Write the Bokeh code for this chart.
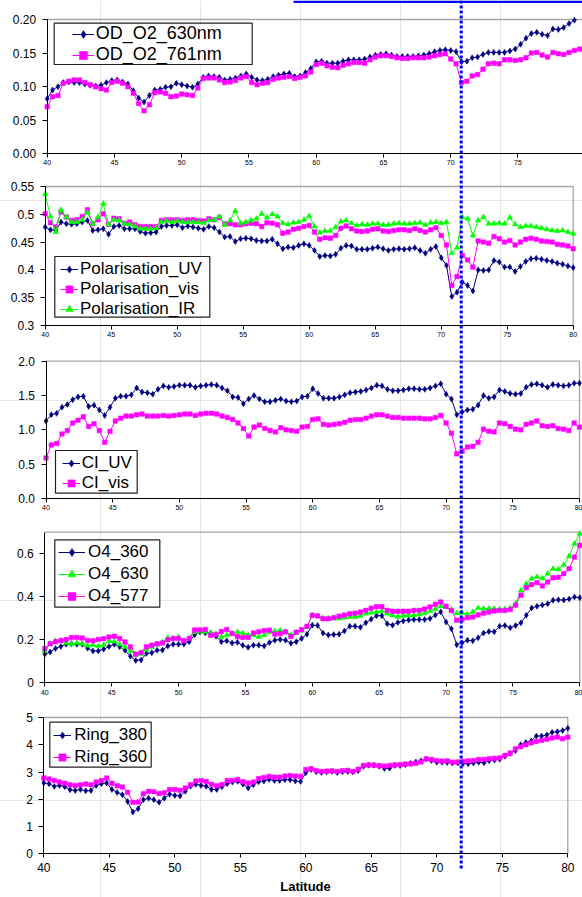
import numpy as np
from bokeh.plotting import figure
from bokeh.models import Range1d, LinearAxis, FixedTicker, Legend, LegendItem
from bokeh.embed import file_html
from bokeh.resources import INLINE

# ---------------- data ----------------
LAT = [40.0, 40.4, 40.8, 41.2, 41.6, 42.0, 42.4, 42.8, 43.2, 43.6,
       44.0, 44.4, 44.8, 45.2, 45.6, 46.0, 46.4, 46.8, 47.2, 47.6,
       48.0, 48.4, 48.8, 49.2, 49.6, 50.0, 50.4, 50.8, 51.2, 51.6,
       52.0, 52.4, 52.8, 53.2, 53.6, 54.0, 54.4, 54.8, 55.2, 55.6,
       56.0, 56.4, 56.8, 57.2, 57.6, 58.0, 58.4, 58.8, 59.2, 59.6,
       60.0, 60.4, 60.8, 61.2, 61.6, 62.0, 62.4, 62.8, 63.2, 63.6,
       64.0, 64.4, 64.8, 65.2, 65.6, 66.0, 66.4, 66.8, 67.2, 67.6,
       68.0, 68.4, 68.8, 69.2, 69.6, 70.0, 70.4, 70.8, 71.2, 71.6,
       72.0, 72.4, 72.8, 73.2, 73.6, 74.0, 74.4, 74.8, 75.2, 75.6,
       76.0, 76.4, 76.8, 77.2, 77.6, 78.0, 78.4, 78.8, 79.2, 79.6,
       80.0]

OD_O2_630 = [0.082, 0.095, 0.100, 0.106, 0.107, 0.106, 0.106, 0.104, 0.102, 0.101,
             0.102, 0.106, 0.109, 0.110, 0.107, 0.104, 0.094, 0.083, 0.077, 0.087,
             0.095, 0.096, 0.099, 0.100, 0.105, 0.103, 0.101, 0.099, 0.104, 0.114,
             0.116, 0.115, 0.114, 0.110, 0.111, 0.113, 0.116, 0.119, 0.114, 0.110,
             0.109, 0.111, 0.115, 0.117, 0.119, 0.120, 0.115, 0.116, 0.121, 0.127,
             0.137, 0.138, 0.135, 0.135, 0.135, 0.138, 0.140, 0.140, 0.140, 0.141,
             0.144, 0.147, 0.148, 0.149, 0.147, 0.145, 0.145, 0.145, 0.145, 0.146,
             0.147, 0.149, 0.152, 0.154, 0.155, 0.154, 0.152, 0.137, 0.138, 0.143,
             0.144, 0.148, 0.151, 0.151, 0.151, 0.151, 0.153, 0.156, 0.163, 0.172,
             0.179, 0.181, 0.178, 0.176, 0.186, 0.185, 0.188, 0.194, 0.199, 0.205,
             0.210]
OD_O2_761 = [0.070, 0.085, 0.087, 0.105, 0.108, 0.110, 0.110, 0.106, 0.103, 0.100,
             0.097, 0.095, 0.106, 0.108, 0.105, 0.100, 0.090, 0.075, 0.064, 0.073,
             0.091, 0.092, 0.090, 0.085, 0.086, 0.089, 0.088, 0.087, 0.098, 0.112,
             0.113, 0.113, 0.110, 0.106, 0.107, 0.109, 0.113, 0.115, 0.106, 0.103,
             0.105, 0.106, 0.111, 0.113, 0.114, 0.115, 0.112, 0.114, 0.116, 0.122,
             0.133, 0.135, 0.131, 0.129, 0.128, 0.132, 0.134, 0.136, 0.136, 0.135,
             0.140, 0.144, 0.146, 0.146, 0.145, 0.143, 0.142, 0.142, 0.143, 0.143,
             0.143, 0.144, 0.146, 0.148, 0.149, 0.141, 0.134, 0.106, 0.108, 0.116,
             0.118, 0.126, 0.134, 0.135, 0.134, 0.140, 0.140, 0.139, 0.140, 0.143,
             0.150, 0.151, 0.147, 0.144, 0.151, 0.149, 0.148, 0.151, 0.154, 0.156,
             0.157]

POL_UV = [0.477, 0.472, 0.471, 0.486, 0.483, 0.482, 0.483, 0.486, 0.489, 0.471,
          0.472, 0.474, 0.464, 0.478, 0.480, 0.474, 0.474, 0.474, 0.469, 0.466,
          0.467, 0.468, 0.478, 0.480, 0.480, 0.481, 0.476, 0.479, 0.477, 0.475,
          0.473, 0.478, 0.476, 0.468, 0.459, 0.460, 0.451, 0.456, 0.457, 0.456,
          0.453, 0.452, 0.452, 0.455, 0.447, 0.438, 0.441, 0.440, 0.444, 0.447,
          0.444, 0.435, 0.424, 0.426, 0.425, 0.428, 0.439, 0.444, 0.443, 0.437,
          0.437, 0.437, 0.439, 0.441, 0.438, 0.435, 0.437, 0.438, 0.437, 0.438,
          0.440, 0.435, 0.430, 0.437, 0.442, 0.422, 0.408, 0.352, 0.360, 0.378,
          0.372, 0.362, 0.400, 0.399, 0.400, 0.417, 0.414, 0.405, 0.405, 0.397,
          0.406, 0.415, 0.420, 0.421, 0.419, 0.417, 0.415, 0.412, 0.410, 0.407,
          0.404]
POL_VIS = [0.501, 0.485, 0.477, 0.504, 0.495, 0.489, 0.490, 0.496, 0.508, 0.483,
           0.490, 0.501, 0.482, 0.493, 0.492, 0.484, 0.486, 0.481, 0.478, 0.478,
           0.478, 0.478, 0.489, 0.490, 0.490, 0.490, 0.489, 0.490, 0.490, 0.489,
           0.488, 0.492, 0.490, 0.494, 0.483, 0.483, 0.481, 0.481, 0.483, 0.484,
           0.483, 0.478, 0.485, 0.484, 0.481, 0.466, 0.468, 0.473, 0.475, 0.478,
           0.480, 0.468, 0.455, 0.458, 0.457, 0.462, 0.475, 0.479, 0.474, 0.470,
           0.469, 0.470, 0.473, 0.474, 0.470, 0.469, 0.471, 0.472, 0.472, 0.471,
           0.474, 0.471, 0.468, 0.472, 0.476, 0.462, 0.445, 0.372, 0.388, 0.426,
           0.418, 0.405, 0.452, 0.450, 0.448, 0.460, 0.456, 0.450, 0.453, 0.445,
           0.450, 0.455, 0.457, 0.455, 0.452, 0.451, 0.450, 0.446, 0.445, 0.443,
           0.438]
POL_IR = [0.536, 0.496, 0.468, 0.508, 0.495, 0.486, 0.486, 0.490, 0.503, 0.483,
          0.495, 0.519, 0.482, 0.490, 0.489, 0.483, 0.482, 0.478, 0.474, 0.474,
          0.474, 0.475, 0.486, 0.488, 0.486, 0.488, 0.486, 0.486, 0.486, 0.486,
          0.484, 0.489, 0.490, 0.496, 0.481, 0.489, 0.506, 0.484, 0.486, 0.489,
          0.492, 0.501, 0.494, 0.500, 0.496, 0.484, 0.482, 0.485, 0.486, 0.490,
          0.497, 0.478, 0.467, 0.470, 0.470, 0.477, 0.487, 0.489, 0.484, 0.480,
          0.482, 0.481, 0.483, 0.483, 0.481, 0.481, 0.483, 0.484, 0.483, 0.483,
          0.484, 0.485, 0.481, 0.485, 0.486, 0.484, 0.486, 0.430, 0.440, 0.495,
          0.492, 0.462, 0.489, 0.495, 0.483, 0.483, 0.484, 0.483, 0.494, 0.482,
          0.477, 0.479, 0.479, 0.477, 0.475, 0.473, 0.471, 0.470, 0.471, 0.468,
          0.465]

CI_UV = [1.13, 1.22, 1.24, 1.33, 1.37, 1.44, 1.48, 1.49, 1.34, 1.36,
         1.29, 1.21, 1.33, 1.46, 1.49, 1.49, 1.51, 1.61, 1.55, 1.54,
         1.52, 1.59, 1.64, 1.62, 1.63, 1.65, 1.65, 1.65, 1.62, 1.64,
         1.65, 1.66, 1.65, 1.61, 1.57, 1.48, 1.47, 1.38, 1.45, 1.50,
         1.45, 1.41, 1.41, 1.43, 1.45, 1.42, 1.41, 1.42, 1.48, 1.49,
         1.60, 1.53, 1.46, 1.46, 1.46, 1.48, 1.51, 1.54, 1.55, 1.56,
         1.58, 1.61, 1.65, 1.64, 1.59, 1.57, 1.57, 1.58, 1.60, 1.60,
         1.59, 1.59, 1.61, 1.64, 1.67, 1.52, 1.45, 1.22, 1.26, 1.29,
         1.30, 1.36, 1.50, 1.46, 1.48, 1.58, 1.56, 1.53, 1.52, 1.53,
         1.62, 1.66, 1.67, 1.65, 1.62, 1.66, 1.65, 1.64, 1.65, 1.68,
         1.68]
CI_VIS = [0.59, 0.78, 0.80, 0.94, 0.99, 1.10, 1.14, 1.19, 1.05, 1.09,
          0.99, 0.82, 0.98, 1.13, 1.17, 1.20, 1.20, 1.22, 1.23, 1.20,
          1.20, 1.20, 1.21, 1.20, 1.21, 1.22, 1.23, 1.23, 1.21, 1.23,
          1.24, 1.24, 1.23, 1.20, 1.18, 1.15, 1.10, 1.02, 0.91, 1.04,
          1.07, 1.02, 0.99, 0.97, 1.03, 1.00, 0.99, 0.98, 1.04, 1.05,
          1.15, 1.16, 1.08, 1.07, 1.08, 1.09, 1.11, 1.14, 1.15, 1.15,
          1.17, 1.20, 1.22, 1.22, 1.20, 1.18, 1.18, 1.17, 1.17, 1.17,
          1.17, 1.16, 1.16, 1.18, 1.21, 1.10, 0.95, 0.65, 0.69, 0.75,
          0.76, 0.82, 1.01, 0.98, 0.97, 1.10, 1.09, 1.05, 1.01, 1.00,
          1.08, 1.10, 1.13, 1.06, 1.05, 1.06, 1.02, 1.01, 0.99, 1.10,
          1.04]

O4_360 = [0.132, 0.142, 0.158, 0.168, 0.178, 0.181, 0.178, 0.178, 0.160, 0.147,
          0.147, 0.155, 0.168, 0.178, 0.166, 0.150, 0.122, 0.103, 0.105, 0.135,
          0.138, 0.150, 0.151, 0.170, 0.178, 0.178, 0.179, 0.190, 0.222, 0.235,
          0.231, 0.231, 0.215, 0.190, 0.194, 0.184, 0.187, 0.173, 0.164, 0.174,
          0.174, 0.170, 0.186, 0.197, 0.200, 0.197, 0.183, 0.190, 0.205, 0.225,
          0.267, 0.265, 0.230, 0.221, 0.223, 0.225, 0.240, 0.262, 0.262, 0.257,
          0.278, 0.295, 0.311, 0.311, 0.274, 0.267, 0.280, 0.287, 0.291, 0.293,
          0.293, 0.293, 0.298, 0.314, 0.329, 0.282, 0.250, 0.176, 0.185, 0.197,
          0.194, 0.208, 0.230, 0.237, 0.236, 0.262, 0.265, 0.255, 0.265, 0.278,
          0.313, 0.347, 0.355, 0.361, 0.367, 0.383, 0.385, 0.384, 0.389, 0.398,
          0.395]
O4_630 = [0.147, 0.181, 0.194, 0.192, 0.184, 0.178, 0.184, 0.180, 0.172, 0.174,
          0.169, 0.175, 0.193, 0.191, 0.178, 0.166, 0.147, 0.130, 0.133, 0.153,
          0.166, 0.176, 0.188, 0.208, 0.205, 0.212, 0.196, 0.205, 0.234, 0.237,
          0.236, 0.230, 0.225, 0.211, 0.220, 0.228, 0.235, 0.230, 0.222, 0.220,
          0.212, 0.220, 0.234, 0.239, 0.243, 0.236, 0.222, 0.232, 0.242, 0.257,
          0.313, 0.311, 0.300, 0.298, 0.298, 0.298, 0.303, 0.305, 0.305, 0.311,
          0.321, 0.325, 0.329, 0.332, 0.321, 0.313, 0.306, 0.311, 0.313, 0.313,
          0.318, 0.323, 0.332, 0.342, 0.355, 0.352, 0.340, 0.322, 0.325, 0.318,
          0.329, 0.347, 0.344, 0.344, 0.344, 0.340, 0.343, 0.346, 0.368, 0.429,
          0.460, 0.484, 0.492, 0.485, 0.507, 0.530, 0.527, 0.548, 0.588, 0.647,
          0.693]
O4_577 = [0.158, 0.180, 0.190, 0.196, 0.200, 0.209, 0.209, 0.207, 0.196, 0.194,
          0.200, 0.204, 0.212, 0.215, 0.205, 0.189, 0.166, 0.132, 0.140, 0.166,
          0.174, 0.180, 0.184, 0.199, 0.205, 0.205, 0.194, 0.205, 0.245, 0.245,
          0.247, 0.219, 0.224, 0.237, 0.247, 0.228, 0.214, 0.210, 0.210, 0.231,
          0.236, 0.242, 0.244, 0.225, 0.228, 0.236, 0.214, 0.234, 0.246, 0.262,
          0.313, 0.310, 0.297, 0.297, 0.302, 0.309, 0.314, 0.320, 0.323, 0.328,
          0.336, 0.346, 0.353, 0.353, 0.336, 0.332, 0.332, 0.332, 0.332, 0.336,
          0.336, 0.342, 0.352, 0.364, 0.375, 0.355, 0.335, 0.290, 0.294, 0.302,
          0.305, 0.315, 0.323, 0.328, 0.333, 0.336, 0.335, 0.340, 0.360, 0.406,
          0.442, 0.456, 0.465, 0.450, 0.468, 0.488, 0.490, 0.507, 0.530, 0.584,
          0.639]

RING_380 = [2.60, 2.57, 2.47, 2.51, 2.46, 2.35, 2.32, 2.36, 2.31, 2.32,
            2.51, 2.57, 2.60, 2.36, 2.25, 2.17, 1.92, 1.53, 1.65, 1.98,
            2.04, 1.98, 1.89, 2.04, 2.18, 2.14, 2.12, 2.29, 2.48, 2.55,
            2.51, 2.48, 2.36, 2.36, 2.46, 2.57, 2.63, 2.66, 2.55, 2.41,
            2.53, 2.64, 2.67, 2.73, 2.69, 2.69, 2.72, 2.72, 2.67, 2.65,
            2.97, 3.09, 3.01, 2.98, 3.01, 3.02, 2.98, 3.01, 3.02, 3.00,
            3.05, 3.21, 3.25, 3.25, 3.21, 3.13, 3.14, 3.24, 3.24, 3.27,
            3.32, 3.37, 3.41, 3.48, 3.42, 3.36, 3.36, 3.35, 3.33, 3.33,
            3.31, 3.30, 3.33, 3.36, 3.34, 3.41, 3.44, 3.47, 3.58, 3.68,
            3.79, 4.00, 4.08, 4.14, 4.32, 4.32, 4.36, 4.46, 4.48, 4.52,
            4.61]
RING_360 = [2.78, 2.74, 2.69, 2.63, 2.59, 2.53, 2.51, 2.53, 2.56, 2.53,
            2.63, 2.69, 2.78, 2.59, 2.50, 2.45, 2.26, 1.89, 1.90, 2.20,
            2.29, 2.28, 2.21, 2.24, 2.36, 2.36, 2.33, 2.41, 2.53, 2.67,
            2.69, 2.65, 2.55, 2.50, 2.54, 2.69, 2.69, 2.73, 2.64, 2.60,
            2.63, 2.76, 2.80, 2.84, 2.81, 2.81, 2.85, 2.87, 2.85, 2.84,
            3.09, 3.12, 3.05, 3.02, 3.03, 3.04, 3.02, 3.05, 3.06, 3.02,
            3.10, 3.24, 3.26, 3.25, 3.23, 3.22, 3.24, 3.26, 3.27, 3.29,
            3.30, 3.32, 3.37, 3.48, 3.46, 3.42, 3.40, 3.41, 3.36, 3.37,
            3.39, 3.41, 3.42, 3.46, 3.46, 3.49, 3.50, 3.52, 3.61, 3.69,
            3.85, 3.93, 4.00, 4.07, 4.12, 4.16, 4.20, 4.25, 4.28, 4.22,
            4.28]

X_TICKS = [40, 45, 50, 55, 60, 65, 70, 75, 80]
X_TICK_LABELS = ["40", "45", "50", "55", "60", "65", "70", "75", "80"]
Y1_TICKS = [0.0, 0.05, 0.1, 0.15, 0.2]
Y1_LABELS = ["0.00", "0.05", "0.10", "0.15", "0.20"]
Y2_TICKS = [0.3, 0.35, 0.4, 0.45, 0.5, 0.55]
Y2_LABELS = ["0.3", "0.35", "0.4", "0.45", "0.5", "0.55"]
Y3_TICKS = [0.0, 0.5, 1.0, 1.5, 2.0]
Y3_LABELS = ["0.0", "0.5", "1.0", "1.5", "2.0"]
Y4_TICKS = [0.0, 0.2, 0.4, 0.6]
Y4_LABELS = ["0", "0.2", "0.4", "0.6"]
Y5_TICKS = [0, 1, 2, 3, 4, 5]
Y5_LABELS = ["0", "1", "2", "3", "4", "5"]

NAVY = "#000080"
MAGENTA = "#FF00FF"
GREEN = "#00FF00"
FONT = "Liberation Sans"

# ---------------- page figure ----------------
W, H = 582, 897
p = figure(width=W, height=H, output_backend="svg", toolbar_location=None,
           x_axis_location=None, y_axis_location=None,
           x_range=Range1d(0, W), y_range=Range1d(H, 0),
           min_border=0, outline_line_color=None,
           background_fill_color="white", border_fill_color="white")

# panel layout in page pixels: left(x=40), right(x=80), top(ymax), bottom(ymin)
PANELS = [
    dict(n="1", L=46.7, R=584.7, T=19.0, B=153.3, lo=0.0, hi=0.2,
         yt=Y1_TICKS, yl=Y1_LABELS, xfs="7px", xso=2),
    dict(n="2", L=44.7, R=572.7, T=186.0, B=325.0, lo=0.3, hi=0.55,
         yt=Y2_TICKS, yl=Y2_LABELS, xfs="7px", xso=2),
    dict(n="3", L=45.5, R=579.0, T=360.7, B=498.0, lo=0.0, hi=2.0,
         yt=Y3_TICKS, yl=Y3_LABELS, xfs="7px", xso=2),
    dict(n="4", L=44.3, R=579.3, T=531.7, B=682.0, lo=0.0, hi=0.7,
         yt=Y4_TICKS, yl=Y4_LABELS, xfs="7px", xso=3),
    dict(n="5", L=43.3, R=567.3, T=717.0, B=853.3, lo=0.0, hi=5.0,
         yt=Y5_TICKS, yl=Y5_LABELS, xfs="12px", xso=5),
]

for P in PANELS:
    sx = (P["R"] - P["L"]) / 40.0
    sy = (P["B"] - P["T"]) / (P["hi"] - P["lo"])
    p.extra_x_ranges["x" + P["n"]] = Range1d(40 - P["L"] / sx, 40 + (W - P["L"]) / sx)
    p.extra_y_ranges["y" + P["n"]] = Range1d(P["lo"] - (H - P["B"]) / sy, P["hi"] + P["T"] / sy)


def rn(P):
    return dict(x_range_name="x" + P["n"], y_range_name="y" + P["n"])


# frame: gray top and right borders
for P in PANELS:
    p.line(x=[40, 80, 80], y=[P["hi"], P["hi"], P["lo"]], line_color="#a6a6a6",
           line_width=1.3, **rn(P))

SERIES = {
    "1": [("OD_O2_630nm", OD_O2_630, NAVY, "diamond", 6),
          ("OD_O2_761nm", OD_O2_761, MAGENTA, "square", 4.5)],
    "2": [("Polarisation_UV", POL_UV, NAVY, "diamond", 6),
          ("Polarisation_vis", POL_VIS, MAGENTA, "square", 4.5),
          ("Polarisation_IR", POL_IR, GREEN, "triangle", 5.5)],
    "3": [("CI_UV", CI_UV, NAVY, "diamond", 6),
          ("CI_vis", CI_VIS, MAGENTA, "square", 4.5)],
    "4": [("O4_360", O4_360, NAVY, "diamond", 6),
          ("O4_630", O4_630, GREEN, "triangle", 5.5),
          ("O4_577", O4_577, MAGENTA, "square", 4.5)],
    "5": [("Ring_380", RING_380, NAVY, "diamond", 6),
          ("Ring_360", RING_360, MAGENTA, "square", 4.5)],
}

items_by_panel = {}
for P in PANELS:
    items = []
    for label, vals, color, marker, size in SERIES[P["n"]]:
        y = np.array(vals, dtype=float)
        y[(y > P["hi"]) | (y < P["lo"])] = np.nan   # clip to plot area
        lr = p.line(x=LAT, y=y, line_color=color, line_width=1, **rn(P))
        sr = p.scatter(x=LAT, y=y, marker=marker, size=size, fill_color=color,
                       line_color=color, line_width=0.5, **rn(P))
        items.append(LegendItem(label=label, renderers=[lr, sr]))
    items_by_panel[P["n"]] = items

# axes (fixed to each panel's own origin)
for P in PANELS:
    xa = LinearAxis(fixed_location=P["lo"], bounds=(40, 80),
                    ticker=FixedTicker(ticks=X_TICKS),
                    major_label_overrides=dict(zip(X_TICKS, X_TICK_LABELS)),
                    major_label_text_font=FONT, major_label_text_font_size=P["xfs"],
                    major_label_text_color="black", major_label_standoff=P["xso"],
                    major_tick_in=0, major_tick_out=4, minor_tick_line_color=None,
                    axis_line_color="black", axis_line_width=1,
                    major_tick_line_color="black", **rn(P))
    if P["n"] == "5":
        xa.axis_label = "Latitude"
        xa.axis_label_text_font = FONT
        xa.axis_label_text_font_style = "bold"
        xa.axis_label_text_font_size = "13px"
        xa.axis_label_text_color = "black"
        xa.axis_label_standoff = 4
    p.add_layout(xa, "below")
    ya = LinearAxis(fixed_location=40, bounds=(P["lo"], P["hi"]),
                    ticker=FixedTicker(ticks=P["yt"]),
                    major_label_overrides=dict(zip(P["yt"], P["yl"])),
                    major_label_text_font=FONT, major_label_text_font_size="12px",
                    major_label_text_color="black", major_label_standoff=6,
                    major_tick_in=0, major_tick_out=5, minor_tick_line_color=None,
                    axis_line_color="black", axis_line_width=1,
                    major_tick_line_color="black", **rn(P))
    p.add_layout(ya, "left")

# legends: box (left, top, right, bottom), glyph left, first row centre, pitch,
# glyph width, label standoff, font size
LEGENDS = {
    "1": ((53.7, 22.7, 251.7, 64.0), 71.7, 35.0, 20, 22, 2, "18px"),
    "2": ((54.3, 256.0, 209.3, 316.7), 60.0, 268.7, 20, 18, 2, "17px"),
    "3": ((55.0, 450.0, 136.7, 492.7), 61.7, 462.7, 20, 18, 2, "17px"),
    "4": ((54.3, 539.3, 159.3, 606.7), 58.0, 551.7, 22, 27, 3, "17px"),
    "5": ((49.3, 721.7, 150.7, 766.7), 53.3, 735.0, 22, 18, 3, "17px"),
}
ITEM_H = 20
for n, (box, gx, c0, pitch, gw, so, fs) in LEGENDS.items():
    l, t, r, b = box
    p.quad(left=[l], right=[r], top=[t], bottom=[b], fill_color="white",
           line_color="#222222", line_width=1.2)
    items = items_by_panel[n]
    k = len(items)
    spacing = pitch - ITEM_H
    total = k * ITEM_H + (k - 1) * spacing
    top_edge = c0 - ITEM_H / 2
    leg = Legend(items=items, location=(gx, H - (top_edge + total)),
                 padding=0, margin=0, spacing=spacing,
                 glyph_width=gw, glyph_height=ITEM_H, label_height=ITEM_H,
                 label_standoff=so, label_text_font=FONT,
                 label_text_font_size=fs, label_text_color="black",
                 border_line_color=None, background_fill_alpha=0)
    p.add_layout(leg)

# blue annotations drawn over the chart (page pixels)
DIVIDER_X = 460.7
p.segment(x0=[DIVIDER_X], y0=[0], x1=[DIVIDER_X], y1=[868], line_color="#0000FF",
          line_width=3, line_dash="3 2")
p.segment(x0=[293], y0=[1.3], x1=[582], y1=[1.3], line_color="#0000FF", line_width=2.6)

open("out.html", "w").write(file_html(p, INLINE))
